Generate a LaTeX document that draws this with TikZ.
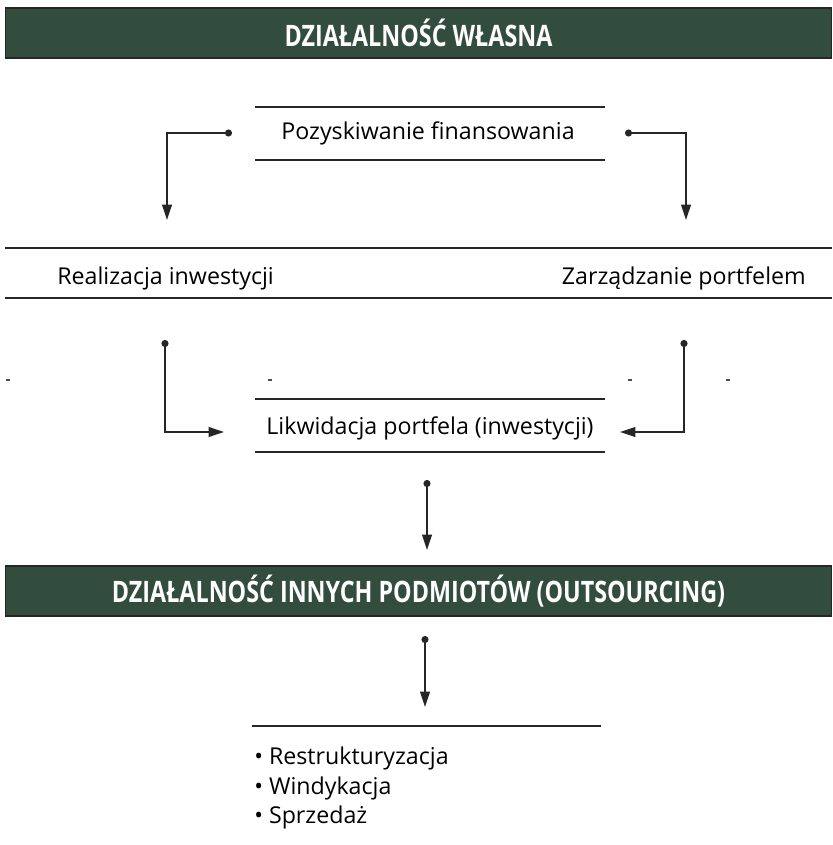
\documentclass[tikz,border=0pt]{standalone}
\usepackage{fontspec}
\setmainfont{Open Sans}
\usepackage{tikz}
\usetikzlibrary{arrows.meta}
\definecolor{barGreen}{RGB}{50,76,62}
\newcommand{\barText}[1]{\scalebox{0.79}[1]{#1}}

\tikzset{
  bar/.style={fill=barGreen, draw=black!85, line width=1pt, minimum width=20.65cm, minimum height=1.25cm,
    inner sep=0pt, text=white, font=\bfseries\fontsize{21}{24}\selectfont},
  boxtext/.style={inner sep=0pt, font=\fontsize{16.5}{19}\selectfont},
  rule/.style={line width=1.6pt, black!85},
  conn/.style={line width=1.2pt, black!85, {Circle[length=5pt]}-{Triangle[length=11pt, width=7pt]}},
  speck/.style={line width=1pt, black!70}
}

\begin{document}
\begin{tikzpicture}[x=0.025cm, y=-0.025cm]
    \useasboundingbox (0,0) rectangle (832,845);

    % Own activity bar
    \node[bar] (own) at (418.5,33) {\barText{DZIAŁALNOŚĆ WŁASNA}};

    % Financing
    \node[boxtext] (pozysk) at (428,133) {Pozyskiwanie finansowania};
    \draw[rule] (255,107) -- (605,107);
    \draw[rule] (255,160) -- (605,160);
    \coordinate (pozL) at (232,133);
    \coordinate (pozR) at (625,133);

    % Investment and portfolio
    \draw[rule] (5,248) -- (832,248);
    \draw[rule] (5,298) -- (832,298);
    \node[boxtext, anchor=west] (real) at (57,278) {Realizacja inwestycji};
    \node[boxtext, anchor=east] (zarz) at (806,278) {Zarządzanie portfelem};
    \coordinate (realIn) at (167,220);
    \coordinate (zarzIn) at (686,220);
    \draw[conn] (pozL) -| (realIn);
    \draw[conn] (pozR) -| (zarzIn);

    % Liquidation
    \node[boxtext] (likw) at (430,428) {Likwidacja portfela (inwestycji)};
    \draw[rule] (255,399) -- (605,399);
    \draw[rule] (255,452) -- (605,452);
    \coordinate (realOut) at (165,340);
    \coordinate (zarzOut) at (684,340);
    \coordinate (likwL) at (224,432);
    \coordinate (likwR) at (620,432);
    \draw[conn] (realOut) |- (likwL);
    \draw[conn] (zarzOut) |- (likwR);

    % specks
    \foreach \sx in {8,270,630,728}
        \draw[speck] (\sx-2,380) -- (\sx+2,380);

    % Outsourcing bar
    \node[bar] (other) at (418.5,591) {\barText{DZIAŁALNOŚĆ INNYCH PODMIOTÓW (OUTSOURCING)}};
    \coordinate (likwOut) at (427,480);
    \coordinate (otherIn) at (427,550);
    \draw[conn] (likwOut) -- (otherIn);

    % Outsourcing tasks
    \coordinate (otherOut) at (425,636);
    \coordinate (taskIn) at (425,707);
    \draw[conn] (otherOut) -- (taskIn);
    \draw[rule] (252,726) -- (601,726);
    \node[boxtext, anchor=north west, align=left] (tasks) at (254,747)
        {\textbullet{} Restrukturyzacja\\[2pt]\textbullet{} Windykacja\\[2pt]\textbullet{} Sprzedaż};
\end{tikzpicture}
\end{document}
